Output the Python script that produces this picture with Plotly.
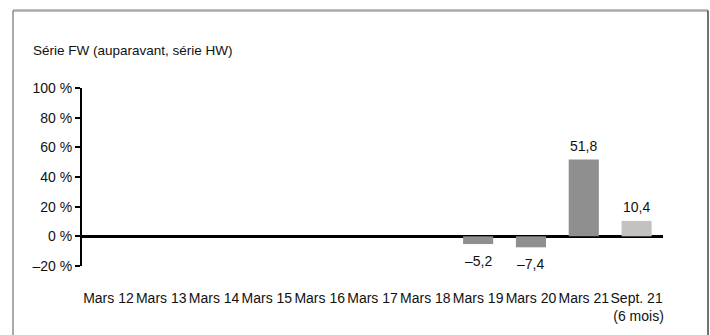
import plotly.graph_objects as go

CATEGORIES = ["Mars 12", "Mars 13", "Mars 14", "Mars 15", "Mars 16", "Mars 17",
              "Mars 18", "Mars 19", "Mars 20", "Mars 21", "Sept. 21"]
TICK_LABELS = ["Mars 12", "Mars 13", "Mars 14", "Mars 15", "Mars 16", "Mars 17",
               "Mars 18", "Mars 19", "Mars 20", "Mars 21",
               "Sept. 21<br>\u00a0(6 mois)"]
VALUES = [None, None, None, None, None, None, None, -5.2, -7.4, 51.8, 10.4]
Y_TICKS = [-20, 0, 20, 40, 60, 80, 100]
Y_TICK_LABELS = ["\u201320 %", "0 %", "20 %", "40 %", "60 %", "80 %", "100 %"]
TITLE = "Série FW (auparavant, série HW)"

DARK_BAR = "#8f8f8f"
LIGHT_BAR = "#c3c2bf"
FONT = "Liberation Sans, Arial, sans-serif"


def fr_label(v):
    return f"{v:.1f}".replace(".", ",").replace("-", "\u2013")


colors = [LIGHT_BAR if c.startswith("Sept") else DARK_BAR for c in CATEGORIES]

fig = go.Figure(go.Bar(
    x=CATEGORIES, y=VALUES,
    marker=dict(color=colors, line=dict(width=0)),
    hoverinfo="skip",
))

# value labels, a little further from the bar ends than plotly's "outside" text
for cat, v in zip(CATEGORIES, VALUES):
    if v is None:
        continue
    fig.add_annotation(
        x=cat, y=v, text=fr_label(v), showarrow=False,
        yanchor="bottom" if v > 0 else "top", yshift=4 if v > 0 else -7,
        font=dict(size=14, color="#111"),
    )

fig.update_layout(
    width=710, height=335,
    margin=dict(l=82, r=47, t=88, b=69),
    plot_bgcolor="white", paper_bgcolor="white",
    font=dict(family=FONT, size=14, color="#111"),
    bargap=0.43, showlegend=False,
    title=dict(text=TITLE, x=33 / 710, xanchor="left", xref="container",
               y=1 - 50 / 335, yanchor="middle", yref="container",
               font=dict(size=13.5, color="#111")),
)
fig.update_xaxes(
    tickmode="array", tickvals=CATEGORIES, ticktext=TICK_LABELS, tickangle=0,
    showline=False, showgrid=False, ticks="", ticklabelstandoff=22,
    tickfont=dict(size=14), automargin=False,
)
fig.update_yaxes(
    range=[-20, 100], tickvals=Y_TICKS, ticktext=Y_TICK_LABELS,
    showline=True, linecolor="black", linewidth=2,
    ticks="outside", ticklen=5, tickcolor="black", tickwidth=1.5,
    showgrid=False, zeroline=True, zerolinecolor="black", zerolinewidth=2.5,
    tickfont=dict(size=14), automargin=False,
)

# outer frame around the chart (open at the bottom)
x0, x1 = (13 - 82) / 581, (708 - 82) / 581
ytop, ybot = (266 - 10.5) / 178, (266 - 345) / 178
fig.add_shape(type="line", xref="paper", yref="paper", x0=x0, x1=x1, y0=ytop, y1=ytop,
              line=dict(color="#aaaaaa", width=2.5))
fig.add_shape(type="line", xref="paper", yref="paper", x0=x0, x1=x0, y0=ytop, y1=ybot,
              line=dict(color="#555555", width=1))
fig.add_shape(type="line", xref="paper", yref="paper", x0=x1, x1=x1, y0=ytop, y1=ybot,
              line=dict(color="#444444", width=1.5))

# drop the default page margin so the 710x335 figure fills the window exactly
fig.write_html("out.html", config={"displayModeBar": False},
               post_script="document.body.style.margin='0';")
